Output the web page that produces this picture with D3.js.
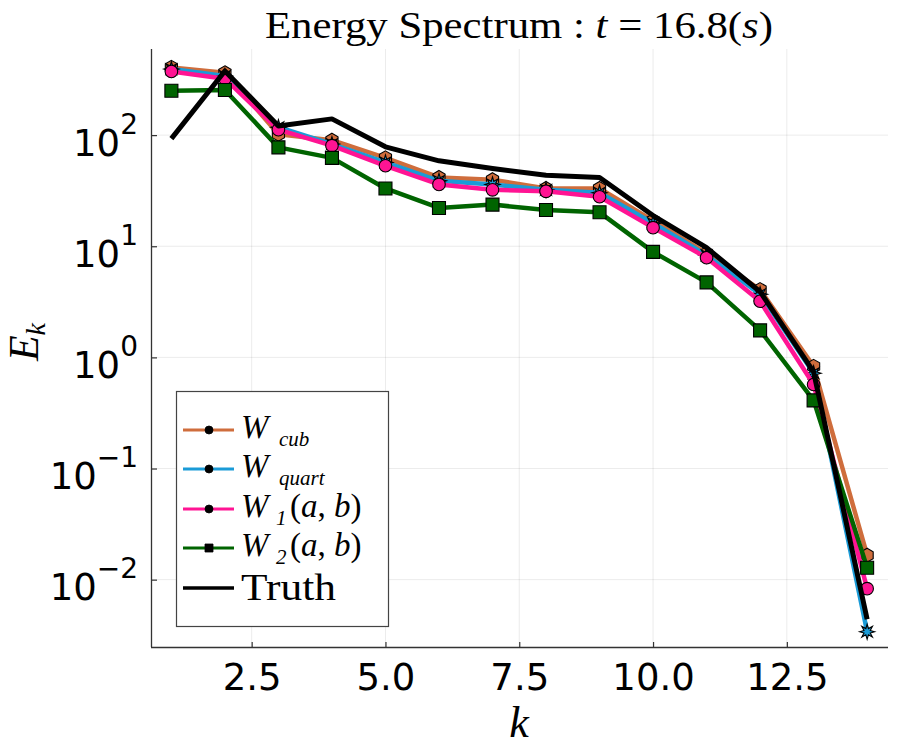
<!DOCTYPE html>
<html>
<head>
<meta charset="utf-8">
<script src="https://cdn.jsdelivr.net/npm/d3@7"></script>
<style>
  html, body { margin: 0; padding: 0; background: #fff; }
  svg { display: block; }
</style>
</head>
<body>
<svg id="chart" width="900" height="750"></svg>
<script>
// ---- data ----
const kValues = [1, 2, 3, 4, 5, 6, 7, 8, 9, 10, 11, 12, 13, 14];
const wCub   = [407, 364, 102, 90, 62.4, 41.6, 39.7, 33.1, 33.1, 17.0, 8.6, 4.07, 0.83, 0.0166];
const wQuart = [393, 341, 118, 83, 56.8, 38.8, 36.0, 32.2, 30.3, 16.1, 8.3, 3.7, 0.72, 0.0034];
const w1ab   = [374, 322, 112, 80.4, 53.0, 36.0, 32.2, 31.2, 27.9, 14.7, 7.9, 3.2, 0.57, 0.0083];
const w2ab   = [251, 255, 77.6, 62.4, 33.1, 22.1, 23.7, 21.2, 20.2, 8.9, 4.73, 1.75, 0.41, 0.0128];
const truth  = [93, 378, 121, 140, 78.5, 58.7, 50.0, 43.5, 41.6, 18.9, 9.7, 3.9, 0.74, 0.0044];
const xTicks = [2.5, 5.0, 7.5, 10.0, 12.5];
const xTickLabels = ["2.5", "5.0", "7.5", "10.0", "12.5"];
const yTicks = [0.01, 0.1, 1, 10, 100];
const yTickExps = ["\u22122", "\u22121", "0", "1", "2"];

const series = [
  { name: "cub",   values: wCub,   color: "#cf6d3c", marker: "hexagon" },
  { name: "quart", values: wQuart, color: "#1a9bd7", marker: "star8" },
  { name: "w1",    values: w1ab,   color: "#ff1493", marker: "circle" },
  { name: "w2",    values: w2ab,   color: "#006400", marker: "square" },
  { name: "truth", values: truth,  color: "#000000", marker: null }
];

// ---- layout ----
const svg = d3.select("#chart");
const plot = { left: 151, right: 888, top: 49, bottom: 647 };

const x = d3.scaleLinear().domain([0.619, 14.39]).range([plot.left, plot.right]);
const y = d3.scaleLog().domain([Math.pow(10, -2.606), Math.pow(10, 2.775)]).range([plot.bottom, plot.top]);

const sansFont = "'DejaVu Sans', sans-serif";
const serifFont = "'Liberation Serif', 'DejaVu Serif', serif";

// grid
const grid = svg.append("g");
grid.selectAll("line.vx").data(xTicks).join("line")
  .attr("x1", d => x(d)).attr("x2", d => x(d))
  .attr("y1", plot.top).attr("y2", plot.bottom)
  .attr("stroke", "#000").attr("stroke-opacity", 0.08).attr("stroke-width", 1);
grid.selectAll("line.hy").data(yTicks).join("line")
  .attr("x1", plot.left).attr("x2", plot.right)
  .attr("y1", d => y(d)).attr("y2", d => y(d))
  .attr("stroke", "#000").attr("stroke-opacity", 0.08).attr("stroke-width", 1);

// axes via d3 axis generators
const xAxis = d3.axisBottom(x).tickValues(xTicks).tickSize(-5).tickFormat((d, i) => xTickLabels[i]).tickPadding(0);
const gx = svg.append("g").attr("transform", `translate(0,${plot.bottom})`).call(xAxis);
gx.select(".domain").attr("d", `M${plot.left},0.5H${plot.right}`).attr("stroke", "#333").attr("stroke-width", 1.3);
gx.selectAll(".tick line").attr("stroke", "#333").attr("stroke-width", 1.2);
gx.selectAll(".tick text").attr("font-family", sansFont).attr("font-size", 37)
  .attr("fill", "#000").attr("y", 43).attr("dy", 0);

const yAxis = d3.axisLeft(y).tickValues(yTicks).tickSize(-6).tickFormat(() => "");
const gy = svg.append("g").attr("transform", `translate(${plot.left},0)`).call(yAxis);
gy.select(".domain").attr("d", `M0.5,${plot.top}V${plot.bottom}`).attr("stroke", "#333").attr("stroke-width", 1.3);
gy.selectAll(".tick line").attr("stroke", "#333").attr("stroke-width", 1.2);
gy.selectAll(".tick text").remove();
gy.selectAll(".tick").each(function(d, i) {
  const t = d3.select(this).append("text")
    .attr("x", -13).attr("y", 20)
    .attr("text-anchor", "end")
    .attr("font-family", sansFont).attr("fill", "#000");
  t.append("tspan").attr("font-size", 37).text("10");
  t.append("tspan").attr("font-size", 28).attr("dy", -22).text(yTickExps[i]);
});

// clip
svg.append("clipPath").attr("id", "clip").append("rect")
  .attr("x", plot.left).attr("y", plot.top - 20)
  .attr("width", plot.right - plot.left).attr("height", plot.bottom - plot.top + 20);

// markers
function star8(r) {
  const pts = [];
  for (let i = 0; i < 16; i++) {
    const a = -Math.PI / 2 + i * Math.PI / 8;
    const rr = i % 2 === 0 ? r : r * 0.45;
    pts.push([rr * Math.cos(a), rr * Math.sin(a)]);
  }
  return "M" + pts.map(p => p.join(",")).join("L") + "Z";
}
function hexagon(r) {
  const pts = [];
  for (let i = 0; i < 6; i++) {
    const a = -Math.PI / 2 + i * Math.PI / 3;
    pts.push([r * Math.cos(a), r * Math.sin(a)]);
  }
  return "M" + pts.map(p => p.join(",")).join("L") + "Z";
}
function markerPath(type, s) {
  if (type === "hexagon") return hexagon(7 * s);
  if (type === "star8") return star8(7.5 * s);
  if (type === "circle") return d3.symbol(d3.symbolCircle, Math.PI * (6.3 * s) ** 2)();
  if (type === "square") return d3.symbol(d3.symbolSquare, (13 * s) ** 2)();
  return "";
}

const line = d3.line().x(d => x(d[0])).y(d => y(d[1]));
const dataG = svg.append("g").attr("clip-path", "url(#clip)");

series.forEach(s => {
  const pts = kValues.map((k, i) => [k, s.values[i]]);
  const g = dataG.append("g");
  g.append("path").datum(pts)
    .attr("d", line)
    .attr("fill", "none")
    .attr("stroke", s.color)
    .attr("stroke-width", s.marker ? 4.5 : 5)
    .attr("stroke-linejoin", "round");
  if (s.marker) {
    g.selectAll("path.m").data(pts).join("path")
      .attr("class", "m")
      .attr("transform", d => `translate(${x(d[0])},${y(d[1])})`)
      .attr("d", markerPath(s.marker, 1))
      .attr("fill", s.color)
      .attr("stroke", "#000")
      .attr("stroke-width", 1.1);
  }
});

// title
svg.append("text")
  .attr("x", 519).attr("y", 38)
  .attr("text-anchor", "middle")
  .attr("font-family", serifFont).attr("font-size", 38)
  .attr("textLength", 508).attr("lengthAdjust", "spacingAndGlyphs")
  .call(t => {
    t.append("tspan").text("Energy Spectrum : ");
    t.append("tspan").attr("font-style", "italic").text("t");
    t.append("tspan").text(" = 16.8(");
    t.append("tspan").attr("font-style", "italic").text("s");
    t.append("tspan").text(")");
  });

// axis labels
svg.append("text")
  .attr("x", 519).attr("y", 737)
  .attr("text-anchor", "middle")
  .attr("font-family", serifFont).attr("font-size", 44).attr("font-style", "italic")
  .text("k");

const yl = svg.append("text")
  .attr("transform", "translate(38,342) rotate(-90)")
  .attr("text-anchor", "middle")
  .attr("font-family", serifFont).attr("font-style", "italic");
yl.append("tspan").attr("font-size", 42).text("E");
yl.append("tspan").attr("font-size", 28).attr("dy", 7).text("k");

// legend
const leg = svg.append("g");
leg.append("rect")
  .attr("x", 176.5).attr("y", 391.5).attr("width", 212).attr("height", 235)
  .attr("fill", "#fff").attr("stroke", "#444").attr("stroke-width", 1.2);

const legendRows = [
  { s: series[0], y: 430, main: "W", sub: "cub", tail: false },
  { s: series[1], y: 469, main: "W", sub: "quart", tail: false },
  { s: series[2], y: 509, main: "W", sub: "1", tail: true },
  { s: series[3], y: 548, main: "W", sub: "2", tail: true },
  { s: series[4], y: 588, main: null, sub: null, tail: false }
];

legendRows.forEach(r => {
  leg.append("line")
    .attr("x1", 183).attr("x2", 234).attr("y1", r.y).attr("y2", r.y)
    .attr("stroke", r.s.color).attr("stroke-width", r.s.marker ? 3.2 : 3.6);
  if (r.s.marker) {
    const small = r.s.marker === "square"
      ? d3.symbol(d3.symbolSquare, 64)()
      : d3.symbol(d3.symbolCircle, Math.PI * 16)();
    leg.append("path").attr("transform", `translate(209,${r.y})`)
      .attr("d", small).attr("fill", "#000").attr("stroke", "#000").attr("stroke-width", 0.8);
  }
  if (r.main) {
    // main letter
    leg.append("text").attr("x", 241).attr("y", r.y + 8)
      .attr("font-family", serifFont).attr("font-size", 33).attr("font-style", "italic")
      .attr("fill", "#000").text(r.main);
    // subscript
    leg.append("text").attr("x", r.sub.length > 1 ? 279 : 276).attr("y", r.y + 16)
      .attr("font-family", serifFont).attr("font-size", 21).attr("font-style", "italic")
      .attr("fill", "#000").text(r.sub);
    if (r.tail) {
      const t = leg.append("text").attr("x", 290).attr("y", r.y + 8)
        .attr("font-family", serifFont).attr("font-size", 33).attr("fill", "#000");
      t.append("tspan").text("(");
      t.append("tspan").attr("font-style", "italic").text("a");
      t.append("tspan").text(", ");
      t.append("tspan").attr("font-style", "italic").text("b");
      t.append("tspan").text(")");
    }
  } else {
    leg.append("text").attr("x", 241).attr("y", r.y + 12)
      .attr("font-family", serifFont).attr("font-size", 37)
      .attr("textLength", 95).attr("lengthAdjust", "spacingAndGlyphs")
      .attr("fill", "#000").text("Truth");
  }
});
</script>
</body>
</html>
